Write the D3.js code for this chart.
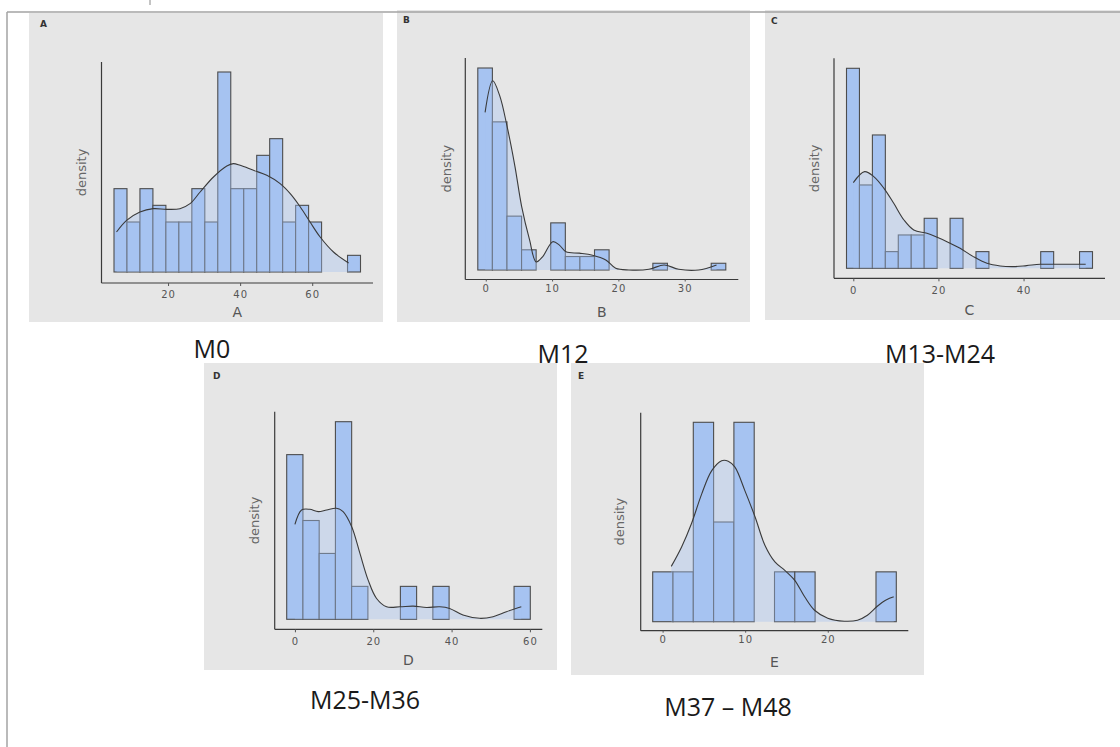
<!DOCTYPE html>
<html>
<head>
<meta charset="utf-8">
<script src="https://cdn.jsdelivr.net/npm/d3@7"></script>
<style>
  html, body { margin: 0; padding: 0; background: #ffffff; }
  svg { display: block; }
</style>
</head>
<body>
<svg id="chart" width="1120" height="747"></svg>
<script>
// ---- histogram counts (equal-width bins over each range) ----
const countsA = [5, 3, 5, 4, 3, 3, 5, 3, 12, 5, 5, 7, 8, 3, 4, 3, 0, 0, 1];
const rangeA  = [5.0, 73.4];
const countsB = [30, 22, 8, 3, 0, 7, 2, 2, 3, 0, 0, 0, 1, 0, 0, 0, 1];
const rangeB  = [-1.2, 36.2];
const countsC = [12, 5, 8, 1, 2, 2, 3, 0, 3, 0, 1, 0, 0, 0, 0, 1, 0, 0, 1];
const rangeC  = [-1.6, 56.2];
const countsD = [5, 3, 2, 6, 1, 0, 0, 1, 0, 1, 0, 0, 0, 0, 1];
const rangeD  = [-2.1, 60.1];
const countsE = [1, 1, 4, 2, 4, 0, 1, 1, 0, 0, 0, 1];
const rangeE  = [-1.2, 28.3];

// ---- density curves, expressed in the same units as the bar heights ----
const kdeXA = [5.7, 8.5, 12.2, 15.9, 19.6, 23.3, 26.1, 28.9, 32.6, 36.3, 38.1, 40.0, 43.7, 47.4, 51.1, 53.9, 56.7, 59.4, 62.2, 65.9, 70.1];
const kdeYA = [2.4, 3.1, 3.6, 3.8, 3.76, 3.8, 4.1, 4.8, 5.7, 6.36, 6.5, 6.4, 6.1, 5.8, 5.3, 4.7, 3.9, 3.0, 2.1, 1.2, 0.54];
const kdeXB = [-0.1, 1.05, 2.1, 3.2, 4.4, 5.4, 6.6, 7.6, 8.6, 10.1, 11.1, 12.1, 14.1, 16.1, 18.1, 19.6, 21.6, 24.6, 26.9, 29.1, 32.1, 34.8];
const kdeYB = [23.4, 28.1, 25.9, 21.4, 15.4, 9.5, 4.5, 1.2, 2.0, 4.2, 3.7, 2.7, 2.5, 2.2, 1.5, 0.25, 0.0, 0.1, 0.75, 0.1, 0.0, 0.75];
const kdeXC = [0, 2.65, 4.8, 7.2, 9.5, 11.9, 14.2, 17.3, 19.7, 22.0, 25.1, 28.2, 31.4, 34.5, 37.6, 40.7, 43.9, 47.0, 50.9, 54.6];
const kdeYC = [5.14, 5.8, 5.5, 4.8, 3.9, 2.9, 2.3, 2.1, 1.86, 1.6, 1.2, 0.7, 0.3, 0.14, 0.1, 0.16, 0.24, 0.24, 0.24, 0.24];
const kdeXD = [0, 1.7, 3.8, 5.95, 8.1, 10.6, 12.3, 14.5, 16.6, 18.7, 20.8, 23.4, 26.8, 30.2, 33.6, 37.0, 39.5, 42.9, 47.2, 50.6, 54.0, 57.8];
const kdeYD = [2.88, 3.32, 3.34, 3.27, 3.32, 3.37, 3.27, 2.81, 2.0, 1.19, 0.64, 0.38, 0.38, 0.4, 0.36, 0.38, 0.33, 0.13, 0.03, 0.08, 0.23, 0.38];
const kdeXE = [1.05, 2.3, 3.5, 4.75, 5.95, 7.15, 7.95, 8.76, 9.96, 11.2, 12.4, 13.6, 14.8, 16.0, 17.2, 18.4, 20.0, 22.0, 23.6, 24.8, 26.0, 27.0, 28.0];
const kdeYE = [1.11, 1.5, 1.97, 2.57, 3.03, 3.23, 3.22, 3.1, 2.63, 2.1, 1.53, 1.2, 1.03, 0.83, 0.5, 0.23, 0.07, 0.01, 0.03, 0.13, 0.31, 0.43, 0.5];

// ---- tick labels and text ----
const ticksA = [20, 40, 60];
const ticksB = [0, 10, 20, 30];
const ticksC = [0, 20, 40];
const ticksD = [0, 20, 40, 60];
const ticksE = [0, 10, 20];
const panelLetters = ["A", "B", "C", "D", "E"];
const captions = ["M0", "M12", "M13-M24", "M25-M36", "M37 – M48"];
const yTitle = "density";

// ---- page layout (pixel geometry of each panel) ----
const layout = [
  { bg: [29, 13, 383, 322],  ax: [101.5, 373, 62, 283],    padX: 12.5, padB: 11, padT: 10, tickLen: 3, tickPad: 4.5, letter: [40, 27],  xTitleY: 317, yTitleX: 82,  cap: [212, 358] },
  { bg: [397, 10, 750, 322], ax: [465.3, 738.3, 58, 279.5], padX: 12.5, padB: 9.5, padT: 10, tickLen: 2, tickPad: 3, letter: [403, 23], xTitleY: 317, yTitleX: 447, cap: [563, 363] },
  { bg: [765, 10, 1120, 320], ax: [834, 1105, 58.3, 278.3], padX: 12.5, padB: 10, padT: 10, tickLen: 3, tickPad: 6,  letter: [771, 24], xTitleY: 315, yTitleX: 815, cap: [940, 363] },
  { bg: [204, 363, 557, 670], ax: [274.7, 542.3, 411.7, 629.3], padX: 12, padB: 10, padT: 10, tickLen: 3, tickPad: 6, letter: [213, 379], xTitleY: 665, yTitleX: 255, cap: [365, 709] },
  { bg: [571, 363, 924, 675], ax: [640.7, 908.3, 412.7, 630.7], padX: 12, padB: 9, padT: 9.6, tickLen: 2, tickPad: 3, letter: [578, 379], xTitleY: 667, yTitleX: 620, cap: [728, 716] }
];

const panels = [
  { counts: countsA, range: rangeA, kx: kdeXA, ky: kdeYA, ticks: ticksA },
  { counts: countsB, range: rangeB, kx: kdeXB, ky: kdeYB, ticks: ticksB },
  { counts: countsC, range: rangeC, kx: kdeXC, ky: kdeYC, ticks: ticksC },
  { counts: countsD, range: rangeD, kx: kdeXD, ky: kdeYD, ticks: ticksD },
  { counts: countsE, range: rangeE, kx: kdeXE, ky: kdeYE, ticks: ticksE }
];

const BAR_FILL = "#a6c3f1";
const BAR_STROKE = "#4d4d4d";
const PANEL_BG = "#e6e6e6";

const svg = d3.select("#chart");

// Panels
panels.forEach((p, i) => {
  const L = layout[i];
  const [x0, y0, x1, y1] = L.bg;
  const [aL, aR, aT, aB] = L.ax;
  const g = svg.append("g");

  g.append("rect")
    .attr("x", x0).attr("y", y0)
    .attr("width", x1 - x0).attr("height", y1 - y0)
    .attr("fill", PANEL_BG);

  const x = d3.scaleLinear().domain(p.range).range([aL + L.padX, aR - L.padX]);
  const y = d3.scaleLinear().domain([0, d3.max(p.counts)]).range([aB - L.padB, aT + L.padT]);

  const n = p.counts.length;
  const w = (p.range[1] - p.range[0]) / n;
  const bins = p.counts.map((c, k) => ({ lo: p.range[0] + k * w, hi: p.range[0] + (k + 1) * w, c }));

  // bars (empty bins still leave an outline on the baseline)
  g.selectAll("rect.bar").data(bins).join("rect")
    .attr("class", "bar")
    .attr("x", d => x(d.lo))
    .attr("width", d => x(d.hi) - x(d.lo))
    .attr("y", d => y(d.c))
    .attr("height", d => y(0) - y(d.c))
    .attr("fill", BAR_FILL)
    .attr("stroke", BAR_STROKE)
    .attr("stroke-width", 1.1);

  // density area over the bars, then its outline
  const pts = p.kx.map((v, k) => [v, p.ky[k]]);
  const area = d3.area()
    .x(d => x(d[0])).y0(y(0)).y1(d => y(d[1]))
    .curve(d3.curveCatmullRom.alpha(0.5));
  const line = d3.line()
    .x(d => x(d[0])).y(d => y(d[1]))
    .curve(d3.curveCatmullRom.alpha(0.5));

  g.append("path").datum(pts)
    .attr("d", area)
    .attr("fill", BAR_FILL)
    .attr("fill-opacity", 0.38);

  g.append("path").datum(pts)
    .attr("d", line)
    .attr("fill", "none")
    .attr("stroke", "#3a3a3a")
    .attr("stroke-width", 1.1);

  // axis lines
  g.append("line")
    .attr("x1", aL).attr("x2", aL).attr("y1", aT).attr("y2", aB)
    .attr("stroke", "#3a3a3a").attr("stroke-width", 1.2);
  g.append("line")
    .attr("x1", aL).attr("x2", aR).attr("y1", aB).attr("y2", aB)
    .attr("stroke", "#3a3a3a").attr("stroke-width", 1.2);

  // x ticks
  const xAxis = d3.axisBottom(x)
    .tickValues(p.ticks)
    .tickFormat(d3.format("d"))
    .tickSizeInner(L.tickLen)
    .tickSizeOuter(0)
    .tickPadding(L.tickPad);
  const ga = g.append("g").attr("transform", `translate(0,${aB})`).call(xAxis);
  ga.select(".domain").remove();
  ga.selectAll(".tick line").attr("stroke", "#555").attr("stroke-width", 1);
  ga.selectAll(".tick text")
    .attr("fill", "#555")
    .style("font-family", "'DejaVu Sans', sans-serif")
    .style("font-size", "10px")
    .style("letter-spacing", "1px");

  // axis titles
  g.append("text")
    .attr("x", (aL + aR) / 2).attr("y", L.xTitleY)
    .attr("text-anchor", "middle")
    .attr("fill", "#555")
    .style("font-family", "'DejaVu Sans', sans-serif")
    .style("font-size", "14px")
    .text(panelLetters[i]);

  g.append("text")
    .attr("transform", `translate(${L.yTitleX},${(aT + aB) / 2}) rotate(-90)`)
    .attr("text-anchor", "middle")
    .attr("dominant-baseline", "middle")
    .attr("fill", "#666")
    .style("font-family", "'DejaVu Sans', sans-serif")
    .style("font-size", "13px")
    .text(yTitle);

  // panel tag
  g.append("text")
    .attr("x", L.letter[0]).attr("y", L.letter[1])
    .attr("fill", "#333")
    .style("font-family", "'DejaVu Sans', sans-serif")
    .style("font-size", "9px")
    .style("font-weight", "bold")
    .text(panelLetters[i]);
});

// Captions under each panel
layout.forEach((L, i) => {
  svg.append("text")
    .attr("x", L.cap[0]).attr("y", L.cap[1])
    .attr("text-anchor", "middle")
    .attr("fill", "#1a1a1a")
    .style("font-family", "'Open Sans', sans-serif")
    .style("font-size", "25px")
    .text(captions[i]);
});

// Page frame
svg.append("line")
  .attr("x1", 7).attr("x2", 1120).attr("y1", 12).attr("y2", 12)
  .attr("stroke", "#a3a3a3").attr("stroke-width", 1.5);
svg.append("line")
  .attr("x1", 7).attr("x2", 7).attr("y1", 12).attr("y2", 747)
  .attr("stroke", "#a3a3a3").attr("stroke-width", 1.5);
svg.append("line")
  .attr("x1", 150).attr("x2", 150).attr("y1", 0).attr("y2", 5)
  .attr("stroke", "#888").attr("stroke-width", 1);
</script>
</body>
</html>
